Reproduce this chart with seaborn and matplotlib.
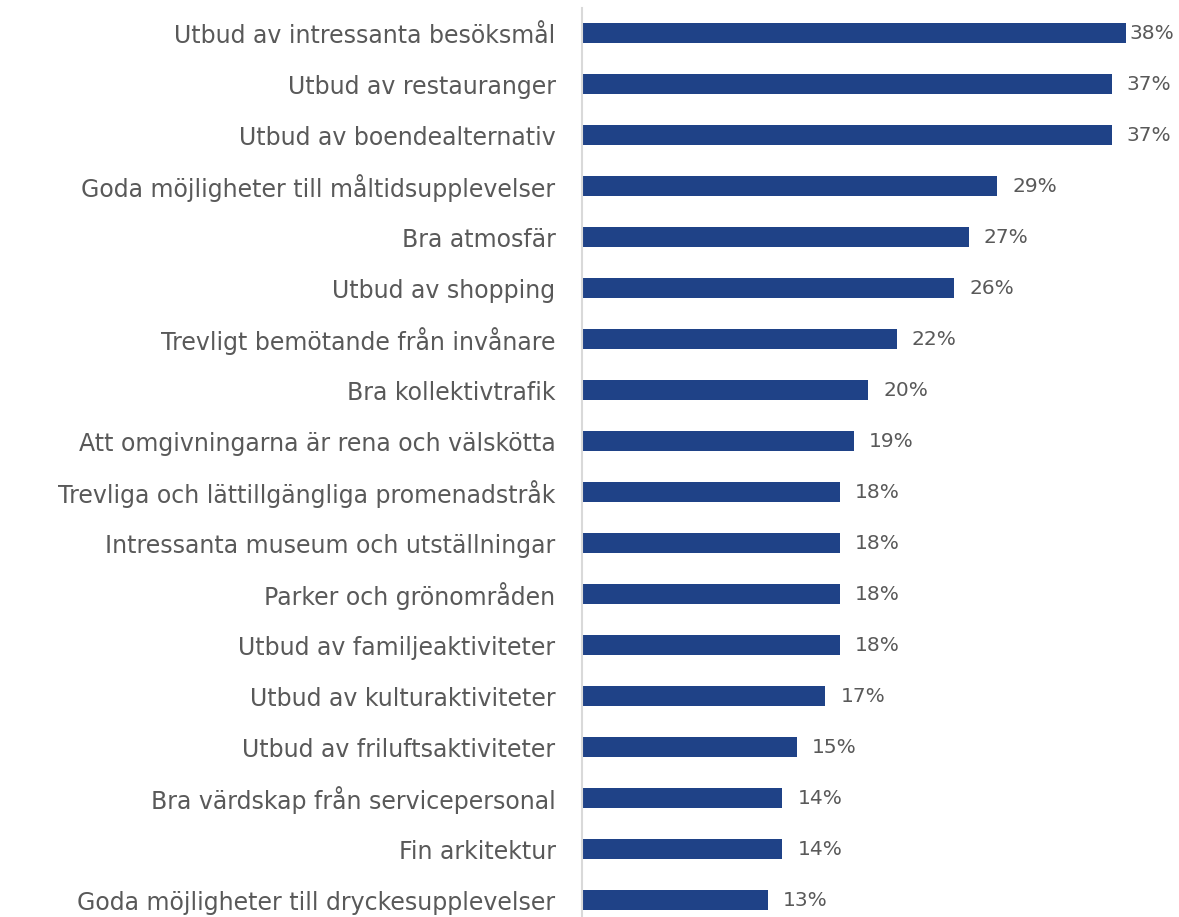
import matplotlib
matplotlib.use("Agg")
import matplotlib.pyplot as plt
import seaborn as sns
import pandas as pd

categories = [
    "Utbud av intressanta besöksmål",
    "Utbud av restauranger",
    "Utbud av boendealternativ",
    "Goda möjligheter till måltidsupplevelser",
    "Bra atmosfär",
    "Utbud av shopping",
    "Trevligt bemötande från invånare",
    "Bra kollektivtrafik",
    "Att omgivningarna är rena och välskötta",
    "Trevliga och lättillgängliga promenadstråk",
    "Intressanta museum och utställningar",
    "Parker och grönområden",
    "Utbud av familjeaktiviteter",
    "Utbud av kulturaktiviteter",
    "Utbud av friluftsaktiviteter",
    "Bra värdskap från servicepersonal",
    "Fin arkitektur",
    "Goda möjligheter till dryckesupplevelser",
]
values = [38, 37, 37, 29, 27, 26, 22, 20, 19, 18, 18, 18, 18, 17, 15, 14, 14, 13]

BAR_COLOR = "#1F4287"
TEXT_COLOR = "#595959"

sns.set_theme(style="white")
plt.rcParams["font.family"] = ["DejaVu Sans"]

df = pd.DataFrame({"item": categories, "share": values})

fig = plt.figure(figsize=(11.79, 9.17), dpi=100)
ax = fig.add_axes([582 / 1179, -0.0093, 1 - 582 / 1179, 1.0011])

sns.barplot(data=df, y="item", x="share", orient="h", color=BAR_COLOR,
            width=0.40, saturation=1, linewidth=0, ax=ax)

ax.set_xlim(0, 41.7)
ax.set_xlabel("")
ax.set_ylabel("")
ax.set_xticks([])
for side in ["top", "right", "bottom"]:
    ax.spines[side].set_visible(False)
ax.spines["left"].set_color("#D9D9D9")
ax.spines["left"].set_linewidth(1.5)
ax.tick_params(axis="y", length=0, pad=19, labelsize=17, labelcolor=TEXT_COLOR)

cont = ax.containers[0]
labels = [f"{v}%" for v in values]
for i, (bar, lab) in enumerate(zip(cont, labels)):
    pad = 3 if values[i] == max(values) else 15
    ax.annotate(lab, (bar.get_width(), bar.get_y() + bar.get_height() / 2),
                xytext=(pad, 0), textcoords="offset pixels",
                va="center", ha="left", fontsize=14.5, color=TEXT_COLOR)

fig.savefig("out.png", dpi=100)
